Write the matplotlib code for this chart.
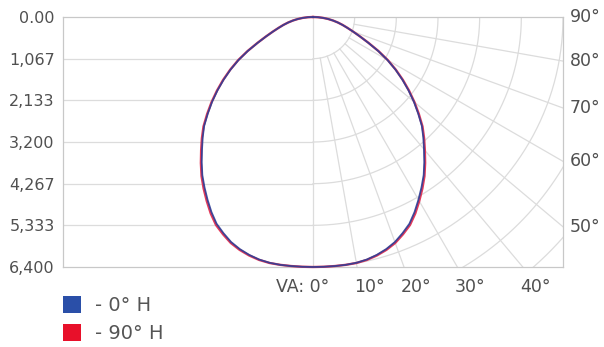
import numpy as np
import matplotlib
matplotlib.use("Agg")
import matplotlib.pyplot as plt
from matplotlib.patches import Patch

# ---- data (vertical angle in degrees, candela) ----
angles = [0, 2.5, 5, 7.5, 10, 12.5, 15, 17.5, 20, 22.5, 25, 27.5, 30, 32.5, 35,
          37.5, 40, 42.5, 45, 47.5, 50, 52.5, 55, 57.5, 60, 62.5, 65, 67.5, 70,
          72.5, 75, 77.5, 80, 82.5, 85, 87.5, 90]
cd_0H = [6400, 6400, 6400, 6400, 6390, 6360, 6305, 6230, 6130, 5990, 5840, 5630,
         5400, 5170, 4940, 4680, 4420, 4180, 3940, 3650, 3370, 3080, 2790, 2500,
         2200, 1880, 1560, 1300, 1090, 920, 780, 650, 520, 390, 260, 130, 0]
cd_90H = [6400, 6400, 6400, 6400, 6395, 6370, 6320, 6250, 6155, 6020, 5875, 5670,
          5440, 5210, 4975, 4715, 4455, 4210, 3965, 3675, 3390, 3100, 2810, 2515,
          2215, 1890, 1570, 1305, 1095, 925, 785, 652, 522, 392, 261, 130, 0]
tick_labels = ["0.00", "1,067", "2,133", "3,200", "4,267", "5,333", "6,400"]
bottom_angles = [10, 20, 30, 40]
right_angles = [50, 60, 70, 80, 90]
series_names = ["- 0° H", "- 90° H"]
line_colors = ["#2d3e96", "#e23a5a"]
legend_colors = ["#2a4fa8", "#e8102a"]

MAXV = 6400.0
W, H = 604, 347
fig = plt.figure(figsize=(W / 100, H / 100), dpi=100)
# axes: x from px 63 to 563, y from px 17 to 267
ax = fig.add_axes([63 / W, (H - 267) / H, 500 / W, 250 / H])
ax.set_xlim(-MAXV, MAXV)
ax.set_ylim(MAXV, 0)

grid_c = "#dcdcdc"
spine_c = "#c8c8c8"
step = MAXV / 6

# left half horizontal lines
for k in range(1, 6):
    ax.plot([-MAXV, 0], [k * step, k * step], color=grid_c, lw=0.9, zorder=1)
# right half arcs
t = np.radians(np.linspace(0, 93, 200))
for k in range(1, 10):
    r = k * step
    ax.plot(r * np.sin(t), r * np.cos(t), color=grid_c, lw=0.9, zorder=1)
# radial lines
for a in range(10, 90, 10):
    ar = np.radians(a)
    rr = np.array([step, 3 * MAXV])
    ax.plot(rr * np.sin(ar), rr * np.cos(ar), color=grid_c, lw=0.9, zorder=1)
# 0 deg vertical
ax.plot([0, 0], [0, MAXV], color=grid_c, lw=0.9, zorder=1)

for s in ["left", "right", "top", "bottom"]:
    ax.spines[s].set_color(spine_c)
    ax.spines[s].set_linewidth(0.9)

ax.set_yticks([k * step for k in range(7)])
ax.set_yticklabels(tick_labels)
ax.set_xticks([])
ax.tick_params(axis="y", length=0, pad=6, labelsize=11.5, labelcolor="#505050")

# curves
def curve(vals):
    a = np.radians(np.array(angles, dtype=float))
    v = np.array(vals, dtype=float)
    xr = v * np.sin(a)
    yr = v * np.cos(a)
    x = np.concatenate([-xr[::-1], xr[1:]])
    y = np.concatenate([yr[::-1], yr[1:]])
    return x, y

x1, y1 = curve(cd_90H)
ax.plot(x1, y1, color=line_colors[1], lw=1.7, zorder=3, clip_on=False,
        solid_joinstyle="round")
x0, y0 = curve(cd_0H)
ax.plot(x0, y0, color=line_colors[0], lw=1.3, zorder=4, clip_on=False,
        alpha=0.9, solid_joinstyle="round")

# angle labels
px = MAXV / 250.0
txt_kw = dict(fontsize=12.5, color="#505050")
ax.text(16 * px, MAXV + 20 * px, "VA: 0°", ha="right", va="center",
        clip_on=False, **txt_kw)
for a in bottom_angles:
    xa = MAXV * np.tan(np.radians(a))
    ax.text(xa - 3 * px, MAXV + 20 * px, f"{a}°", ha="left", va="center",
            clip_on=False, **txt_kw)
for a in right_angles:
    ya = MAXV / np.tan(np.radians(a)) if a < 90 else 0.0
    ax.text(MAXV + 7 * px, ya, f"{a}°", ha="left", va="center",
            clip_on=False, **txt_kw)

handles = [Patch(facecolor=c, edgecolor="none") for c in legend_colors]
fig.legend(handles, series_names, loc="upper left",
           bbox_to_anchor=(63 / W, 1 - 296 / H), frameon=False,
           fontsize=14, handlelength=0.95, handleheight=1.0,
           handletextpad=0.72, labelspacing=0.42, labelcolor="#555555",
           borderpad=0, borderaxespad=0)

fig.savefig("out.png", dpi=100)
